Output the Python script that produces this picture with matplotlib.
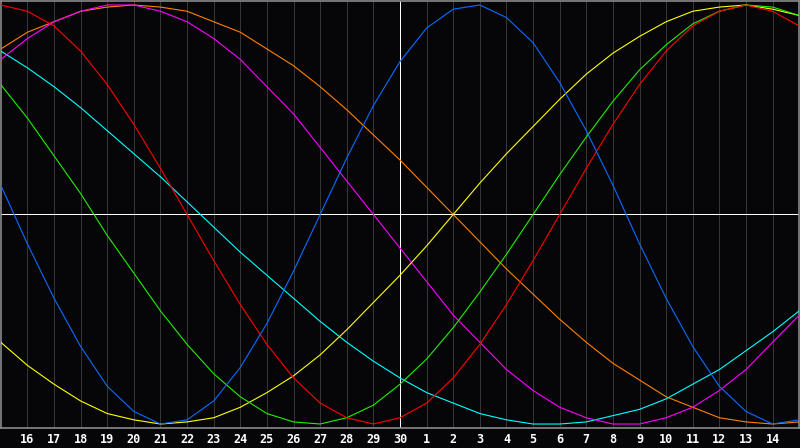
import numpy as np
import matplotlib
matplotlib.use('Agg')
import matplotlib.pyplot as plt

# day labels along the bottom (previous month 16..30, then 1..14)
day_labels = [str(d) for d in range(16, 31)] + [str(d) for d in range(1, 15)]
today = '30'

# biorhythm values, one per day, from day 15 of last month to day 15 of this one
physical = [0.14, -0.14, -0.40, -0.63, -0.82, -0.94, -1.00, -0.98, -0.89, -0.73, -0.52, -0.27,
            0.00, 0.27, 0.52, 0.73, 0.89, 0.98, 1.00, 0.94, 0.82, 0.63, 0.40, 0.14,
            -0.14, -0.40, -0.63, -0.82, -0.94, -1.00, -0.98]
emotional = [1.00, 0.97, 0.90, 0.78, 0.62, 0.43, 0.22, 0.00, -0.22, -0.43, -0.62, -0.78,
             -0.90, -0.97, -1.00, -0.97, -0.90, -0.78, -0.62, -0.43, -0.22, 0.00, 0.22, 0.43,
             0.62, 0.78, 0.90, 0.97, 1.00, 0.97, 0.90]
intellectual = [0.62, 0.46, 0.28, 0.10, -0.10, -0.28, -0.46, -0.62, -0.76, -0.87, -0.95, -0.99,
                -1.00, -0.97, -0.91, -0.81, -0.69, -0.54, -0.37, -0.19, 0.00, 0.19, 0.37, 0.54,
                0.69, 0.81, 0.91, 0.97, 1.00, 0.99, 0.95]
intuitive = [0.74, 0.84, 0.92, 0.97, 1.00, 1.00, 0.97, 0.92, 0.84, 0.74, 0.61, 0.48,
             0.32, 0.16, 0.00, -0.16, -0.32, -0.48, -0.61, -0.74, -0.84, -0.92, -0.97, -1.00,
             -1.00, -0.97, -0.92, -0.84, -0.74, -0.61, -0.48]
aesthetic = [-0.61, -0.72, -0.81, -0.89, -0.95, -0.98, -1.00, -0.99, -0.97, -0.92, -0.85, -0.77,
             -0.67, -0.55, -0.42, -0.29, -0.15, 0.00, 0.15, 0.29, 0.42, 0.55, 0.67, 0.77,
             0.85, 0.92, 0.97, 0.99, 1.00, 0.98, 0.95]
awareness = [0.79, 0.87, 0.92, 0.97, 0.99, 1.00, 0.99, 0.97, 0.92, 0.87, 0.79, 0.71,
             0.61, 0.50, 0.38, 0.26, 0.13, 0.00, -0.13, -0.26, -0.38, -0.50, -0.61, -0.71,
             -0.79, -0.87, -0.92, -0.97, -0.99, -1.00, -0.99]
spiritual = [0.78, 0.70, 0.61, 0.51, 0.40, 0.29, 0.18, 0.06, -0.06, -0.18, -0.29, -0.40,
             -0.51, -0.61, -0.70, -0.78, -0.85, -0.90, -0.95, -0.98, -1.00, -1.00, -0.99, -0.96,
             -0.93, -0.88, -0.81, -0.74, -0.65, -0.56, -0.46]

series = [
    (spiritual, '#00ffff'),
    (awareness, '#ff8000'),
    (intuitive, '#ff00ff'),
    (aesthetic, '#ffff00'),
    (intellectual, '#22ee00'),
    (emotional, '#ff0000'),
    (physical, '#0a6cff'),
]

px = 0.72  # one pixel at 100 dpi
bg = '#060609'
fig = plt.figure(figsize=(8, 4.48), dpi=100, facecolor=bg)
ax = fig.add_axes([0.001, 20 / 448, 0.998, 427 / 448])
ax.set_facecolor(bg)

days = np.arange(len(physical)) - 1  # first value sits one day before the first label
ticks = np.arange(len(day_labels))

for t in ticks:
    if day_labels[t] != today:
        ax.axvline(t, color='#363636', lw=px, antialiased=False, zorder=1)

ax.axhline(0, color='white', lw=px, antialiased=False, zorder=2)
ax.axvline(day_labels.index(today), color='white', lw=px, antialiased=False, zorder=2)

for vals, col in series:
    ax.plot(days, vals, color=col, lw=0.8, zorder=3)

ax.set_xlim(-1, 29)
ax.set_ylim(-1.019, 1.019)
ax.set_yticks([])
ax.set_xticks(ticks)
ax.set_xticklabels(day_labels, color='white', fontsize=8.5, fontweight='bold',
                   family='DejaVu Sans Mono')
ax.tick_params(axis='x', length=0, pad=3.5)
for s in ax.spines.values():
    s.set_color('#8a8a8a')
    s.set_linewidth(1.2)

fig.savefig('out.png', dpi=100, facecolor=bg)
